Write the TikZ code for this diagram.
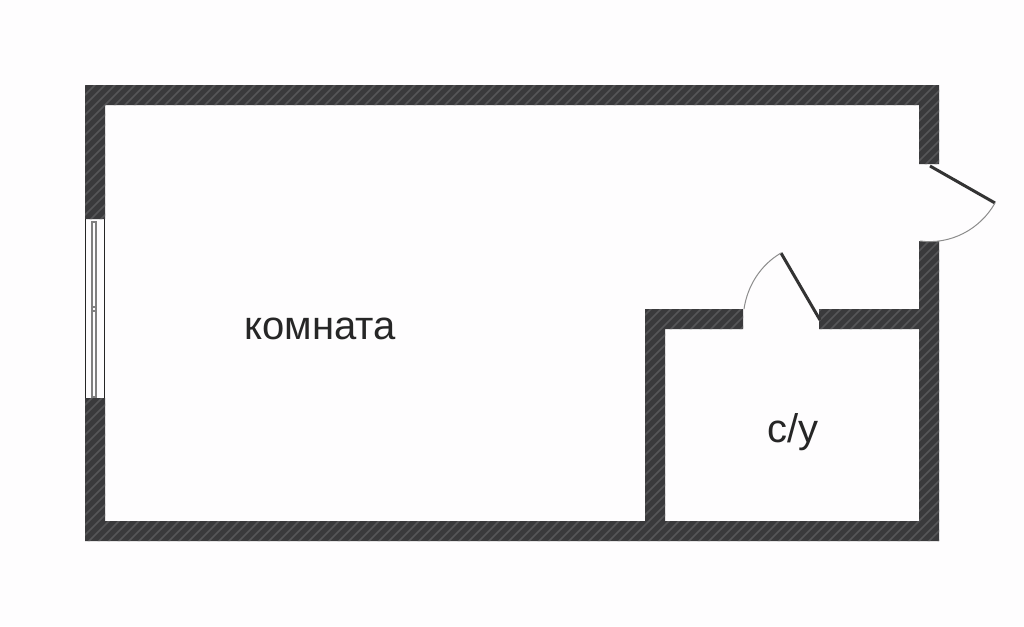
\documentclass[tikz,border=0pt]{standalone}
\usepackage{fontspec}
\setmainfont{Liberation Sans}
\definecolor{walldark}{HTML}{3A3A3C}
\definecolor{wallhatch}{HTML}{565658}
\definecolor{roomback}{HTML}{FEFDFE}
\tikzset{
  label/.style={font=\fontsize{40}{40}\selectfont, text=black!85, inner sep=0pt},
  leaf/.style={line width=3pt, color=black!80},
  swing/.style={line width=1pt, color=gray!90},
  hatch/.style={line width=1.5pt, color=wallhatch},
  sash/.style={line width=1.1pt, color=gray}
}
\newcommand{\wallshape}{
  (85,85) -- (939,85) -- (939,164) -- (919,164) -- (919,105) -- (105,105) -- (105,219) -- (85,219) -- cycle
  (85,398) -- (105,398) -- (105,521) -- (645,521) -- (645,309) -- (743,309) -- (743,329) -- (665,329)
  -- (665,521) -- (919,521) -- (919,329) -- (819,329) -- (819,309) -- (919,309) -- (919,241)
  -- (939,241) -- (939,541) -- (85,541) -- cycle
}
\begin{document}
\begin{tikzpicture}[x=1pt,y=-1pt]
\useasboundingbox (0,0) rectangle (1024,626);
\fill[roomback] (0,0) rectangle (1024,626);

% walls
\fill[walldark] \wallshape;
\begin{scope}
\clip \wallshape;
\foreach \i in {90,100,...,1500}
  \draw[hatch] (\i,60) -- ++(-500,500);
\end{scope}

% window
\draw[line width=1pt, black!85] (85.5,219) -- (85.5,398);
\draw[line width=1pt, black!85] (104.5,219) -- (104.5,398);
\draw[sash] (92,222) rectangle (96,397);
\draw[sash] (92,307) rectangle (96,311);

% entrance door
\coordinate (h1) at (930,166);
\coordinate (t1) at (995,203);
\coordinate (e1) at (920,241);
\draw[leaf] (h1) -- (t1);
\draw[swing] (t1) .. controls (980,229.6) and (950.3,245) .. (e1);

% bathroom door
\coordinate (h2) at (820,320);
\coordinate (t2) at (781,253);
\coordinate (e2) at (744,309);
\draw[leaf] (h2) -- (t2);
\draw[swing] (t2) .. controls (760.7,264.8) and (747.4,285.7) .. (e2);

\node[label] (room) at (320,329) {комната};
\node[label] (wc) at (793,432) {с/у};
\end{tikzpicture}
\end{document}
